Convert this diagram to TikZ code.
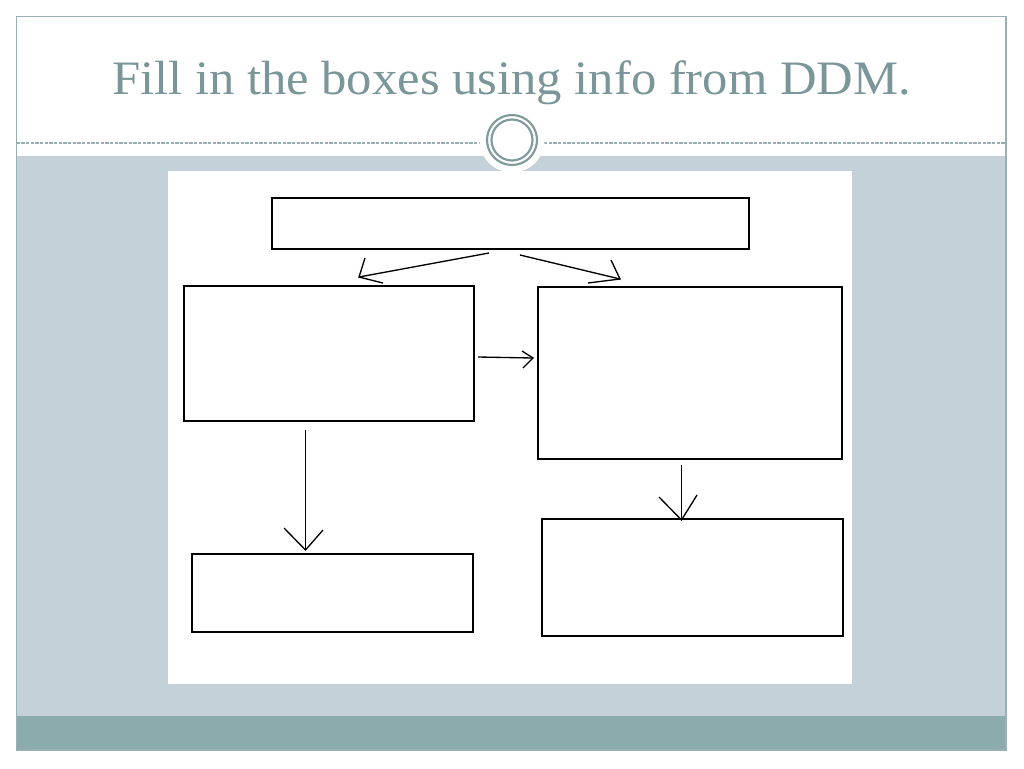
\documentclass[tikz,border=0pt]{standalone}
\usepackage{fontspec}
\setmainfont{Liberation Serif}
\definecolor{framec}{RGB}{154,176,179}
\definecolor{bandc}{RGB}{197,209,216}
\definecolor{footc}{RGB}{140,171,173}
\definecolor{titlec}{RGB}{122,150,153}
\definecolor{ringc}{RGB}{127,154,155}
\begin{document}
\begin{tikzpicture}[x=0.75pt,y=-0.75pt,
  fbox/.style={draw=black,line width=1.45pt},
  conn/.style={draw=black,line width=1pt,line join=miter}]
\useasboundingbox (0,0) rectangle (1024,768);
\fill[white] (0,0) rectangle (1024,768);
% background bands
\fill[bandc] (16.5,156) rectangle (1006,716);
\fill[footc] (16.5,716) rectangle (1006,750);
\draw[framec,line width=0.9pt] (16.5,16.5) rectangle (1006,750);
% dashed rule
\draw[ringc!80,line width=0.8pt,dash pattern=on 2.5pt off 1pt] (16.5,143) -- (1006,143);
% medallion
\fill[white] (512,140) circle[radius=32.5];
\draw[ringc,line width=1.6pt] (512,140) circle[radius=25];
\draw[ringc,line width=1.6pt] (512,140) circle[radius=20.5];
% title
\node[text=titlec,font=\fontsize{36}{40}\selectfont,anchor=base] (title) at (511.5,94) {\scalebox{1.055}[1]{Fill in the boxes using info from DDM.}};
% white panel
\fill[white] (168,171) rectangle (852,684);
% boxes
\node[fbox,minimum width=477*0.75pt,minimum height=51*0.75pt,anchor=north west,inner sep=0pt] (top) at (271,197) {};
\node[fbox,minimum width=290*0.75pt,minimum height=135*0.75pt,anchor=north west,inner sep=0pt] (ml) at (183,285) {};
\node[fbox,minimum width=304*0.75pt,minimum height=172*0.75pt,anchor=north west,inner sep=0pt] (mr) at (537,286) {};
\node[fbox,minimum width=281*0.75pt,minimum height=78*0.75pt,anchor=north west,inner sep=0pt] (bl) at (191,553) {};
\node[fbox,minimum width=301*0.75pt,minimum height=117*0.75pt,anchor=north west,inner sep=0pt] (br) at (541,518) {};
% arrow coordinates
\coordinate (a1s) at (489,253); \coordinate (a1t) at (359,277);
\coordinate (a1p) at (365,258); \coordinate (a1q) at (383,283);
\coordinate (a2s) at (520,255); \coordinate (a2t) at (620,279);
\coordinate (a2p) at (611,260); \coordinate (a2q) at (588,283);
\coordinate (a3s) at (478,357); \coordinate (a3t) at (533,358);
\coordinate (a3p) at (522,351); \coordinate (a3q) at (523,368);
\coordinate (a4s) at (305.5,430); \coordinate (a4t) at (305.5,550);
\coordinate (a4p) at (284,528); \coordinate (a4q) at (323,530);
\coordinate (a5s) at (681.5,465); \coordinate (a5t) at (681.5,520);
\coordinate (a5p) at (659,497); \coordinate (a5q) at (697,495);
\foreach \i in {1,...,5}{
  \draw[conn] (a\i s) -- (a\i t);
  \draw[conn] (a\i p) -- (a\i t) -- (a\i q);
}
\end{tikzpicture}
\end{document}
